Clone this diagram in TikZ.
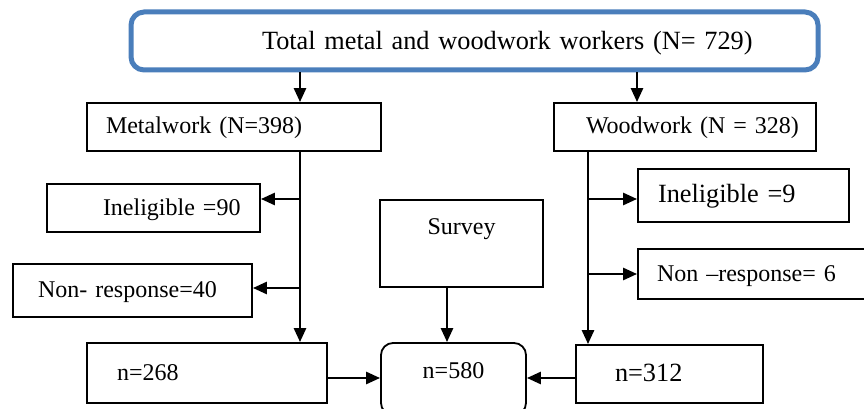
\documentclass[tikz,border=0pt]{standalone}
\usepackage{fontspec}
\setmainfont{Liberation Serif}
\usetikzlibrary{arrows.meta}
\definecolor{frameblue}{RGB}{74,126,187}
\begin{document}
\begin{tikzpicture}[x=1pt,y=-1pt,
    box/.style={draw, line width=1.8pt, inner xsep=0pt, inner ysep=0pt,
        align=left, text height=18pt, text depth=4pt,
        font=\fontsize{24}{28}\selectfont},
    bigtext/.style={font=\fontsize{26.3}{30}\selectfont},
    topbox/.style={box, bigtext, draw=frameblue, line width=5pt,
        rounded corners=13pt, text height=20pt, text depth=2pt},
    arr/.style={-{Triangle[length=14pt,width=12pt]}, line width=2.6pt}]
    \useasboundingbox (0,0) rectangle (864,409);

    \node[topbox, text width=687pt, minimum height=58pt] (total) at (474.5,41)
        {\hspace*{131pt}Total metal and woodwork workers (N= 729)};

    \node[box, text width=294pt, minimum height=48pt] (metal) at (234,127)
        {\hspace*{19pt}Metalwork (N=398)};
    \node[box, text width=262pt, minimum height=48pt] (wood) at (685,127)
        {\hspace*{32pt}Woodwork (N = 328)};

    \node[box, text width=213pt, minimum height=48pt] (inel90) at (153.5,208)
        {\hspace*{56pt}Ineligible =90};
    \node[box, text width=239pt, minimum height=53pt] (non40) at (132.5,290.5)
        {\hspace*{25pt}Non- response=40};
    \node[box, bigtext, text width=211pt, minimum height=53pt] (inel9)
        at (743.5,195.5) {\hspace*{20pt}Ineligible =9};
    \node[box, text width=242pt, minimum height=50pt] (non6) at (759,274)
        {\hspace*{19pt}Non --response= 6};

    \node[box, align=center, text width=163pt, minimum height=87pt,
        text depth=37pt] (survey) at (461.5,243.5) {Survey};

    \node[box, text width=240pt, minimum height=60pt] (n268) at (207,373)
        {\hspace*{30pt}n=268};
    \node[box, align=center, rounded corners=12pt, text width=145pt,
        minimum height=72pt, text depth=20pt] (n580) at (453.5,379) {n=580};
    \node[box, bigtext, text width=187pt, minimum height=58pt] (n312)
        at (669.5,374) {\hspace*{39pt}n=312};

    % drop lines and branch points
    \coordinate (lspine) at (300,0);
    \coordinate (rspine) at (588,0);
    \coordinate (rdrop) at (637,0);
    \coordinate (sdrop) at (447,0);
    \coordinate (mid) at (0,378);
    \coordinate (lb1) at (300,199);
    \coordinate (lb2) at (300,288);
    \coordinate (rb1) at (588,199);
    \coordinate (rb2) at (588,274);

    \draw[arr] (total.south -| lspine) -- (metal.north -| lspine);
    \draw[arr] (total.south -| rdrop) -- (wood.north -| rdrop);

    \draw[arr] (metal.south -| lspine) -- (n268.north -| lspine);
    \draw[arr] (lb1) -- (lb1 -| inel90.east);
    \draw[arr] (lb2) -- (lb2 -| non40.east);

    \draw[arr] (wood.south -| rspine) -- (n312.north -| rspine);
    \draw[arr] (rb1) -- (rb1 -| inel9.west);
    \draw[arr] (rb2) -- (rb2 -| non6.west);

    \draw[arr] (survey.south -| sdrop) -- (n580.north -| sdrop);
    \draw[arr] (n268.east |- mid) -- (n580.west |- mid);
    \draw[arr] (n312.west |- mid) -- (n580.east |- mid);
\end{tikzpicture}
\end{document}
